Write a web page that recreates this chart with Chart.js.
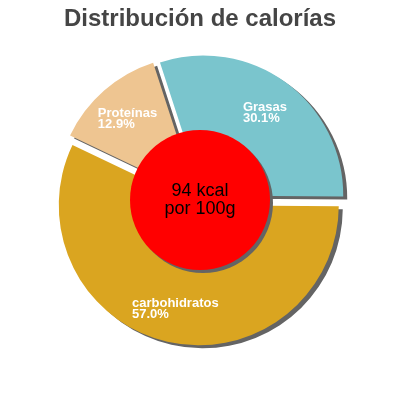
<!DOCTYPE html>
<html>
<head>
<meta charset="utf-8">
<script src="https://cdn.jsdelivr.net/npm/chart.js@4/dist/chart.umd.min.js"></script>
<style>
  html, body { margin: 0; padding: 0; background: #fff; }
  #wrap { width: 400px; height: 400px; }
</style>
</head>
<body>
<div id="wrap"><canvas id="kcalChart"></canvas></div>
<script>
const categories = ["Grasas", "carbohidratos", "Proteínas"];
const percents = [30.1, 57.0, 12.9];
const energyLines = ["94 kcal", "por 100g"];

const sliceColors = ["#7AC5CD", "#DAA520", "#EEC591"];
const FONT = '"Liberation Sans", Arial, sans-serif';
const GAP = 5.5;          // explode distance of each slice
const SHADOW = "#646464";

// draws each slice pushed out along its middle angle, with a hard shadow
const explodePie = {
    id: "explodePie",
    beforeDatasetDraw(chart, args) {
        const ctx = chart.ctx;
        args.meta.data.forEach((arc) => {
            const mid = (arc.startAngle + arc.endAngle) / 2;
            ctx.save();
            ctx.translate(Math.cos(mid) * GAP, Math.sin(mid) * GAP);
            ctx.shadowColor = SHADOW;
            ctx.shadowOffsetX = 4;
            ctx.shadowOffsetY = 3;
            ctx.shadowBlur = 0;
            arc.draw(ctx);
            ctx.restore();
        });
        return false;
    },
    afterDatasetsDraw(chart) {
        const ctx = chart.ctx;
        const arcs = chart.getDatasetMeta(0).data;
        const cx = arcs[0].x;
        const cy = arcs[0].y;
        const r = arcs[0].outerRadius;

        // red centre disc
        ctx.save();
        ctx.shadowColor = SHADOW;
        ctx.shadowOffsetX = 3;
        ctx.shadowOffsetY = 3;
        ctx.beginPath();
        ctx.arc(cx, cy, r * 0.5, 0, Math.PI * 2);
        ctx.fillStyle = "#FF0000";
        ctx.fill();
        ctx.restore();

        ctx.save();
        ctx.fillStyle = "#000";
        ctx.font = "18px " + FONT;
        ctx.textAlign = "center";
        ctx.textBaseline = "alphabetic";
        ctx.fillText(energyLines[0], cx, cy - 4);
        ctx.fillText(energyLines[1], cx, cy + 14);
        ctx.restore();

        // slice labels
        ctx.save();
        ctx.fillStyle = "#fff";
        ctx.font = "bold 13px " + FONT;
        ctx.textAlign = "left";
        ctx.textBaseline = "alphabetic";
        arcs.forEach((arc, i) => {
            const mid = (arc.startAngle + arc.endAngle) / 2;
            const px = cx + Math.cos(mid) * r * 0.786;
            const py = cy + Math.sin(mid) * r * 0.786;
            const lines = [categories[i], percents[i].toFixed(1) + "%"];
            const w = Math.max(...lines.map((t) => ctx.measureText(t).width));
            ctx.fillText(lines[0], px - w / 2, py - 0.5);
            ctx.fillText(lines[1], px - w / 2, py + 10.5);
        });
        ctx.restore();
    },
};

new Chart(document.getElementById("kcalChart"), {
    type: "pie",
    data: {
        labels: categories,
        datasets: [
            {
                data: percents,
                backgroundColor: sliceColors,
                borderWidth: 0,
            },
        ],
    },
    options: {
        responsive: true,
        maintainAspectRatio: false,
        animation: false,
        rotation: -18,
        layout: {
            padding: { top: 0, left: 60, right: 60, bottom: 60 },
        },
        plugins: {
            legend: { display: false },
            tooltip: { enabled: false },
            title: {
                display: true,
                text: "Distribución de calorías",
                color: "#454545",
                font: { family: FONT, size: 24, weight: "bold", lineHeight: 1.2 },
                padding: { top: 5, bottom: 26.2 },
            },
        },
    },
    plugins: [explodePie],
});
</script>
</body>
</html>
